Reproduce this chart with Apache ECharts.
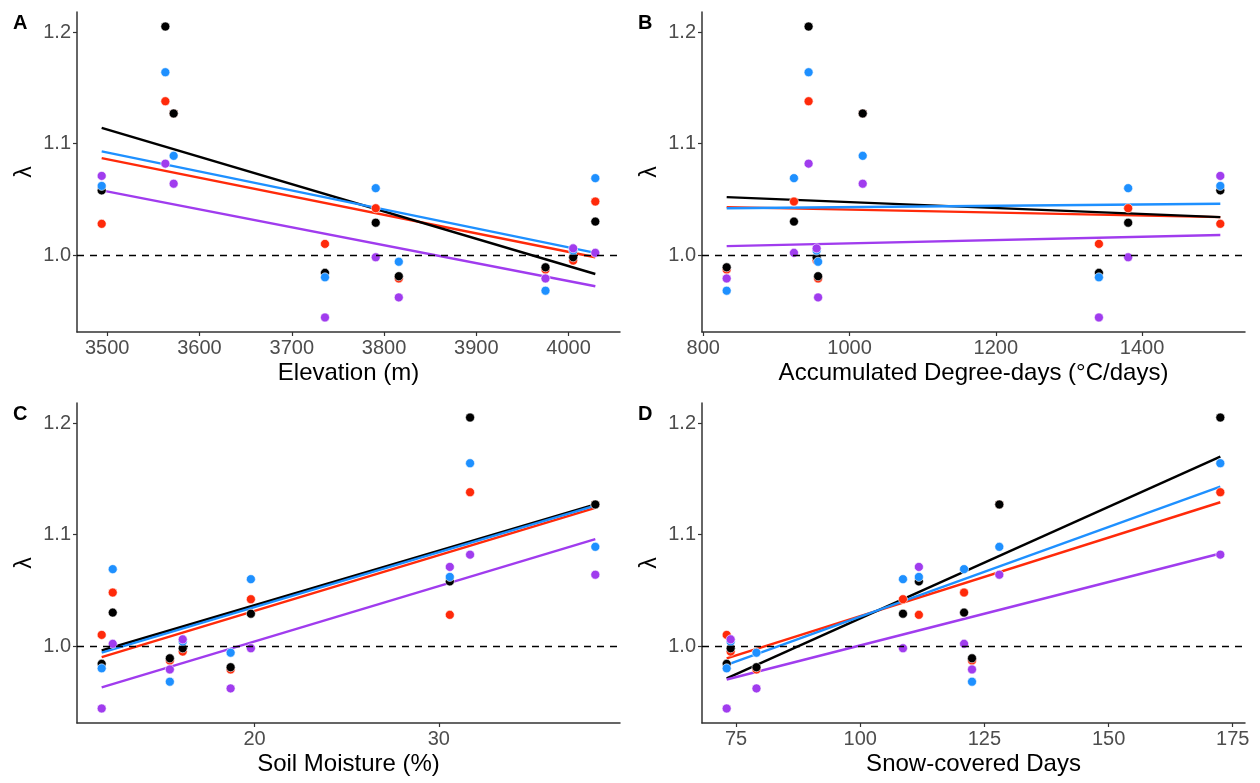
<!DOCTYPE html>
<html>
<head>
<meta charset="utf-8">
<script src="https://cdn.jsdelivr.net/npm/echarts@6/dist/echarts.min.js"></script>
<style>
  html, body { margin: 0; padding: 0; background: #fff; }
  #chart-panel { width: 1260px; height: 783px; }
</style>
</head>
<body>
<div id="chart-panel"></div>
<script>
// site covariates (9 sites)
const elevation = [3494, 3563, 3572, 3736, 3791, 3816, 3975, 4005, 4029]
const degreeDays = [1507, 944, 1018, 1341, 1381, 957, 832, 955, 924]
const soilMoisture = [30.6, 31.7, 38.5, 11.7, 19.8, 18.7, 15.4, 16.1, 12.3]
const snowDays = [111.8, 172.5, 128, 73.1, 108.6, 79.1, 122.5, 73.9, 120.9]

// lambda per site, one array per group
const lambdaRed = [1.028, 1.138, 1.127, 1.010, 1.042, 0.979, 0.987, 0.995, 1.048]
const lambdaBlack = [1.058, 1.205, 1.127, 0.984, 1.029, 0.981, 0.989, 0.998, 1.030]
const lambdaBlue = [1.062, 1.164, 1.089, 0.980, 1.060, 0.994, 0.968, 1.004, 1.069]
const lambdaPurple = [1.071, 1.082, 1.064, 0.944, 0.998, 0.962, 0.979, 1.006, 1.002]

// fitted lambda at the lowest / highest covariate value, per panel (A, B, C, D)
const fitRed = [[1.087, 0.998], [1.043, 1.034], [0.990, 1.124], [0.989, 1.129]]
const fitBlack = [[1.114, 0.983], [1.052, 1.034], [0.996, 1.127], [0.971, 1.170]]
const fitBlue = [[1.093, 1.002], [1.042, 1.046], [0.994, 1.126], [0.983, 1.143]]
const fitPurple = [[1.058, 0.972], [1.008, 1.018], [0.963, 1.096], [0.970, 1.083]]

const panelLabels = ["A", "B", "C", "D"]
const xNames = ["Elevation (m)", "Accumulated Degree-days (°C/days)", "Soil Moisture (%)", "Snow-covered Days"]
const xTicks = [
  [3500, 3600, 3700, 3800, 3900, 4000],
  [800, 1000, 1200, 1400],
  [20, 30],
  [75, 100, 125, 150, 175]
]
const yTicks = [1.0, 1.1, 1.2]

const covariates = [elevation, degreeDays, soilMoisture, snowDays]
const groups = [
  { values: lambdaRed, fit: fitRed, color: "#ff2a0a" },
  { values: lambdaBlack, fit: fitBlack, color: "#000000" },
  { values: lambdaBlue, fit: fitBlue, color: "#1e90ff" },
  { values: lambdaPurple, fit: fitPurple, color: "#a03cee" }
]

const gridPos = [
  { left: 77, top: 12 },
  { left: 702, top: 12 },
  { left: 77, top: 403 },
  { left: 702, top: 403 }
]
const font = "Liberation Sans"

// ggplot-like 5% expansion
const expand = (arr) => {
  const lo = Math.min(...arr), hi = Math.max(...arr)
  const pad = (hi - lo) * 0.05
  return [lo - pad, hi + pad]
}

const yRange = expand([].concat(...groups.map((g) => g.values)))

const chart = echarts.init(document.getElementById("chart-panel"), null, { renderer: "canvas" })

const grid = gridPos.map((p) => ({ left: p.left, top: p.top, width: 543, height: 320 }))

const xAxis = covariates.map((xs, i) => {
  const r = expand(xs)
  return {
    type: "value",
    gridIndex: i,
    min: r[0],
    max: r[1],
    name: xNames[i],
    nameLocation: "middle",
    nameGap: 29,
    nameTextStyle: { color: "#000", fontSize: 24, fontFamily: font },
    splitLine: { show: false },
    axisLine: { show: true, onZero: false, lineStyle: { color: "#333", width: 1.5 } },
    axisTick: { show: true, length: 4, customValues: xTicks[i], lineStyle: { color: "#333", width: 1.2 } },
    axisLabel: {
      customValues: xTicks[i],
      margin: 6,
      color: "#4d4d4d",
      fontSize: 20,
      fontFamily: font,
      formatter: (v) => String(v)
    }
  }
})

const yAxis = covariates.map((xs, i) => ({
  type: "value",
  gridIndex: i,
  min: yRange[0],
  max: yRange[1],
  name: "λ",
  nameLocation: "middle",
  nameGap: 41,
  nameTextStyle: { color: "#000", fontSize: 23, fontFamily: font },
  splitLine: { show: false },
  axisLine: { show: true, onZero: false, lineStyle: { color: "#333", width: 1.5 } },
  axisTick: { show: true, length: 4, customValues: yTicks, lineStyle: { color: "#333", width: 1.2 } },
  axisLabel: {
    customValues: yTicks,
    margin: 6,
    color: "#4d4d4d",
    fontSize: 20,
    fontFamily: font,
    formatter: (v) => v.toFixed(1)
  }
}))

const series = []
covariates.forEach((xs, i) => {
  const x0 = Math.min(...xs), x1 = Math.max(...xs)
  // dashed reference line at lambda = 1
  series.push({
    type: "line",
    xAxisIndex: i,
    yAxisIndex: i,
    data: [],
    silent: true,
    markLine: {
      silent: true,
      symbol: "none",
      label: { show: false },
      lineStyle: { color: "#000", type: [7, 6], width: 1.3 },
      data: [{ yAxis: 1 }]
    },
    z: 1
  })
  groups.forEach((g) => {
    series.push({
      type: "line",
      xAxisIndex: i,
      yAxisIndex: i,
      data: [[x0, g.fit[i][0]], [x1, g.fit[i][1]]],
      showSymbol: false,
      symbol: "none",
      lineStyle: { color: g.color, width: 2.4 },
      z: 2
    })
  })
  groups.forEach((g) => {
    series.push({
      type: "scatter",
      xAxisIndex: i,
      yAxisIndex: i,
      data: xs.map((x, k) => [x, g.values[k]]),
      symbolSize: 9,
      itemStyle: { color: g.color, borderColor: "#fff", borderWidth: 0.6, opacity: 1 },
      z: 3
    })
  })
})

const title = panelLabels.map((t, i) => ({
  text: t,
  left: gridPos[i].left - 64,
  top: gridPos[i].top + 1,
  padding: 0,
  textStyle: { fontSize: 20, fontWeight: "bold", color: "#000", fontFamily: font }
}))

chart.setOption({
  animation: false,
  backgroundColor: "#fff",
  title,
  grid,
  xAxis,
  yAxis,
  series
})
window.addEventListener("resize", () => chart.resize())
</script>
</body>
</html>
